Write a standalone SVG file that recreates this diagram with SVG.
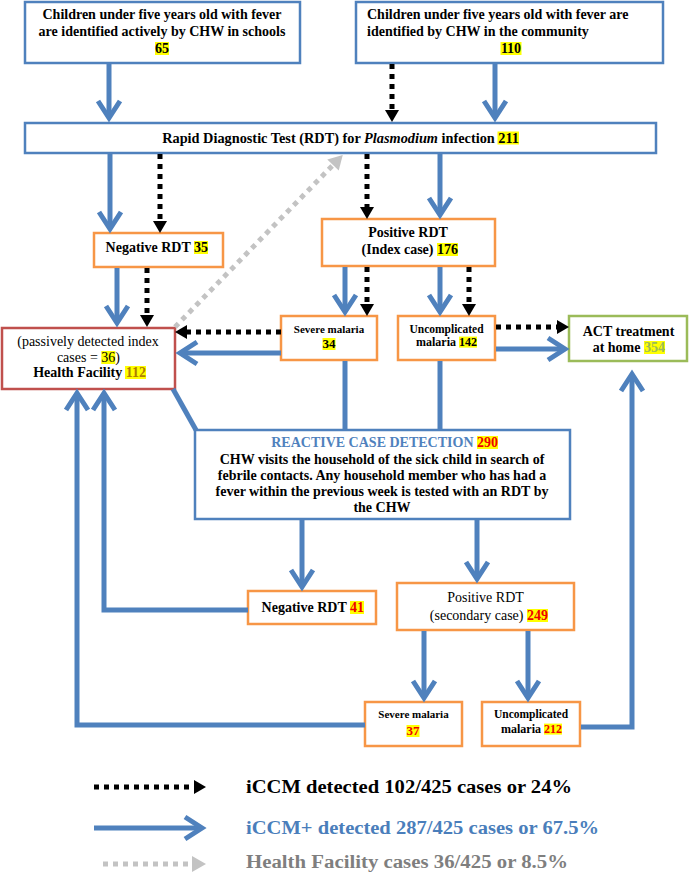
<svg xmlns="http://www.w3.org/2000/svg" width="689" height="873" viewBox="0 0 689 873">
<style>
.bx{fill:#fff;stroke-width:2.5}
.bl{stroke:#4f81bd}.or{stroke:#f79646}.rd{stroke:#c0504d}.gr{stroke:#9bbb59}
text{font-family:"Liberation Serif","Times New Roman",serif;fill:#000}
.b{font-weight:bold}
.hl{fill:#ffff00}
.red{fill:#ee0000;font-weight:bold}
.cb{fill:none;stroke:#4f81bd;stroke-width:5;stroke-linejoin:miter}
.cd{fill:none;stroke:#000;stroke-width:5;stroke-dasharray:5 5}
.cg{fill:none;stroke:#c3c3c3;stroke-width:5;stroke-dasharray:5 5}
.lg{font-weight:bold;font-size:18px}
</style>
<defs>
<marker id="chev" markerUnits="userSpaceOnUse" markerWidth="40" markerHeight="40" refX="18" refY="12" orient="auto" overflow="visible"><path d="M1,1 L18,12 L1,23" fill="none" stroke="#4f81bd" stroke-width="5"/></marker>
<marker id="tri" markerUnits="userSpaceOnUse" markerWidth="20" markerHeight="20" refX="0" refY="7" orient="auto" overflow="visible"><path d="M0,0 L12,7 L0,14 Z" fill="#000"/></marker>
<marker id="gtri" markerUnits="userSpaceOnUse" markerWidth="20" markerHeight="20" refX="0" refY="8" orient="auto" overflow="visible"><path d="M0,0 L14,8 L0,16 Z" fill="#c3c3c3"/></marker>
</defs>

<g id="school">
<rect class="bx bl" x="25" y="2" width="275" height="61"/>
<text class="b" font-size="14" text-anchor="middle" x="162" y="19">Children under five years old with fever</text>
<text class="b" font-size="14" text-anchor="middle" x="162" y="36">are identified actively by CHW in schools</text>
<rect class="hl" x="155" y="42" width="14" height="13"/>
<text class="b" font-size="14" text-anchor="middle" x="162" y="53">65</text>
</g>

<g id="community">
<rect class="bx bl" x="356" y="2" width="307" height="61"/>
<text class="b" font-size="14" x="367" y="19">Children under five years old with fever are</text>
<text class="b" font-size="14" x="367" y="36">identified by CHW in the community</text>
<rect class="hl" x="500.5" y="42" width="21" height="13"/>
<text class="b" font-size="14" text-anchor="middle" x="511" y="53">110</text>
</g>

<g id="rdt">
<rect class="bx bl" x="25" y="123" width="631" height="30"/>
<rect class="hl" x="497.5" y="131.5" width="21.5" height="13"/>
<text class="b" font-size="14.3" text-anchor="end" x="519" y="142.5">Rapid Diagnostic Test (RDT) for <tspan font-style="italic">Plasmodium</tspan> infection 211</text>
</g>

<g id="neg35">
<rect class="bx or" x="94" y="233" width="129" height="34"/>
<rect class="hl" x="194" y="241" width="14" height="13"/>
<text class="b" font-size="14" text-anchor="end" x="208" y="252">Negative RDT 35</text>
</g>

<g id="pos-index">
<rect class="bx or" x="322" y="219" width="173" height="47"/>
<text class="b" font-size="14" text-anchor="middle" x="408" y="237">Positive RDT</text>
<rect class="hl" x="437" y="243" width="21" height="13"/>
<text class="b" font-size="14" text-anchor="end" x="458" y="254">(Index case) 176</text>
</g>

<g id="health-facility">
<rect class="bx rd" x="2" y="328" width="173" height="61"/>
<text font-size="14" text-anchor="middle" x="88" y="346">(passively detected index</text>
<rect class="hl" x="101.3" y="351" width="14" height="13"/>
<text font-size="14" text-anchor="end" x="120" y="362">cases = 36)</text>
<rect class="hl" x="125" y="366" width="21" height="13"/>
<text class="b" font-size="14" text-anchor="end" x="146" y="377">Health Facility <tspan fill="#b07d00">112</tspan></text>
</g>

<g id="severe34">
<rect class="bx or" x="281" y="316" width="96" height="44"/>
<text class="b" font-size="11" text-anchor="middle" x="329" y="333">Severe malaria</text>
<rect class="hl" x="322.5" y="338" width="13" height="12"/>
<text class="b" font-size="13" text-anchor="middle" x="329" y="348">34</text>
</g>

<g id="uncomplicated142">
<rect class="bx or" x="398" y="316" width="97" height="44"/>
<text class="b" font-size="11.5" text-anchor="middle" x="446.5" y="333">Uncomplicated</text>
<rect class="hl" x="459" y="336.6" width="18" height="11"/>
<text class="b" font-size="12" text-anchor="end" x="477" y="346">malaria 142</text>
</g>

<g id="act">
<rect class="bx gr" x="569" y="316" width="118" height="45"/>
<text class="b" font-size="14" text-anchor="middle" x="628.5" y="336">ACT treatment</text>
<rect class="hl" x="644" y="341" width="21" height="13"/>
<text class="b" font-size="14" text-anchor="end" x="665" y="352">at home <tspan fill="#9bbb59">354</tspan></text>
</g>

<g id="reactive">
<rect class="bx bl" x="195" y="430" width="375" height="89"/>
<rect class="hl" x="477" y="436" width="21" height="13"/>
<text class="b" font-size="14" text-anchor="end" x="498" y="447"><tspan fill="#4f81bd">REACTIVE CASE DETECTION </tspan><tspan fill="#ee0000">290</tspan></text>
<text class="b" font-size="14" text-anchor="middle" x="382" y="464">CHW visits the household of the sick child in search of</text>
<text class="b" font-size="14" text-anchor="middle" x="382" y="480">febrile contacts. Any household member who has had a</text>
<text class="b" font-size="14" text-anchor="middle" x="382" y="496">fever within the previous week is tested with an RDT by</text>
<text class="b" font-size="14" text-anchor="middle" x="382" y="512">the CHW</text>
</g>

<g id="neg41">
<rect class="bx or" x="248" y="591" width="128" height="33"/>
<rect class="hl" x="350" y="601" width="14" height="13"/>
<text class="b" font-size="14" text-anchor="end" x="364" y="612">Negative RDT <tspan fill="#ee0000">41</tspan></text>
</g>

<g id="pos-secondary">
<rect class="bx or" x="397" y="583" width="177" height="47"/>
<text font-size="14" text-anchor="middle" x="485.5" y="602">Positive RDT</text>
<rect class="hl" x="527" y="609" width="21" height="13"/>
<text font-size="14" text-anchor="end" x="548" y="620">(secondary case) <tspan class="red">249</tspan></text>
</g>

<g id="severe37">
<rect class="bx or" x="365" y="702" width="97" height="44"/>
<text class="b" font-size="11" text-anchor="middle" x="413.5" y="718">Severe malaria</text>
<rect class="hl" x="406.5" y="725" width="13" height="12"/>
<text class="red" font-size="13" text-anchor="middle" x="413" y="735">37</text>
</g>

<g id="uncomplicated212">
<rect class="bx or" x="482" y="702" width="98" height="44"/>
<text class="b" font-size="11.5" text-anchor="middle" x="531" y="718">Uncomplicated</text>
<rect class="hl" x="544" y="723.6" width="18" height="11"/>
<text class="b" font-size="12" text-anchor="end" x="562" y="733">malaria <tspan fill="#ee0000">212</tspan></text>
</g>

<g id="connectors">
<path class="cb" marker-end="url(#chev)" d="M109,64 V118"/>
<path class="cb" marker-end="url(#chev)" d="M495,64 V118"/>
<path class="cb" marker-end="url(#chev)" d="M110,154 V229"/>
<path class="cb" marker-end="url(#chev)" d="M440,154 V215"/>
<path class="cb" marker-end="url(#chev)" d="M117,268 V323"/>
<path class="cb" marker-end="url(#chev)" d="M345,267 V312"/>
<path class="cb" marker-end="url(#chev)" d="M440,267 V312"/>
<path class="cb" marker-end="url(#chev)" d="M281,353 H180"/>
<path class="cb" marker-end="url(#chev)" d="M496,349 H565"/>
<path class="cb" marker-end="url(#chev)" d="M302,520 V587"/>
<path class="cb" marker-end="url(#chev)" d="M477,520 V579"/>
<path class="cb" marker-end="url(#chev)" d="M424,631 V698"/>
<path class="cb" marker-end="url(#chev)" d="M528,631 V698"/>
<path class="cb" marker-end="url(#chev)" d="M248,610 H104 V393"/>
<path class="cb" marker-end="url(#chev)" d="M365,725 H77 V393"/>
<path class="cb" marker-end="url(#chev)" d="M581,727 H632 V374"/>
<path class="cb" d="M345,361 V430"/>
<path class="cb" d="M440,361 V430"/>
<path class="cb" d="M173,389 L196,430"/>
<path class="cd" marker-end="url(#tri)" d="M392,64 V110"/>
<path class="cd" marker-end="url(#tri)" d="M160,154 V221"/>
<path class="cd" marker-end="url(#tri)" d="M367,154 V207"/>
<path class="cd" marker-end="url(#tri)" d="M147,268 V315"/>
<path class="cd" marker-end="url(#tri)" d="M367,267 V304"/>
<path class="cd" marker-end="url(#tri)" d="M469,267 V304"/>
<path class="cd" marker-end="url(#tri)" d="M281,332 H187"/>
<path class="cd" marker-end="url(#tri)" d="M496,327 H557"/>
<path class="cg" marker-end="url(#gtri)" d="M175,327 L333,165"/>
</g>

<g id="legend">
<path class="cd" marker-end="url(#tri)" d="M94,787 H194"/>
<text class="lg" x="246" y="793" textLength="326" lengthAdjust="spacingAndGlyphs">iCCM detected 102/425 cases or 24%</text>
<path class="cb" stroke-width="6" marker-end="url(#chev)" d="M94,828 H202"/>
<text class="lg" x="246" y="834" style="fill:#4a7ebb" textLength="353" lengthAdjust="spacingAndGlyphs">iCCM+ detected 287/425 cases or 67.5%</text>
<path class="cg" marker-end="url(#gtri)" d="M103,864 H192"/>
<text class="lg" x="246" y="868" style="fill:#7f7f7f" textLength="322" lengthAdjust="spacingAndGlyphs">Health Facility cases 36/425 or 8.5%</text>
</g>
</svg>
